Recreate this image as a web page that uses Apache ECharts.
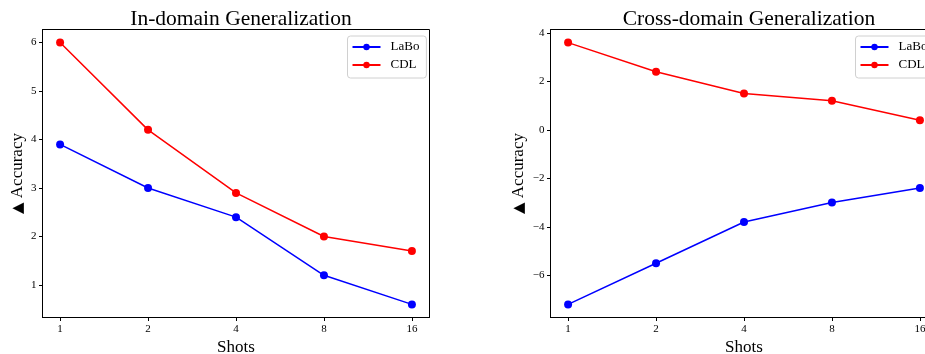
<!DOCTYPE html>
<html><head><meta charset="utf-8">
<script src="https://cdn.jsdelivr.net/npm/echarts@6/dist/echarts.min.js"></script>
<style>html,body{margin:0;padding:0;background:#fff}#c{width:925px;height:354px}</style>
</head><body><div id="c"></div>
<script>
const shots = ['1','2','4','8','16'];
const inLaBo = [3.9, 3.0, 2.4, 1.2, 0.6];
const inCDL = [6.0, 4.2, 2.9, 2.0, 1.7];
const crossLaBo = [-7.2, -5.5, -3.8, -3.0, -2.4];
const crossCDL = [3.6, 2.4, 1.5, 1.2, 0.4];
const inTicks = [1, 2, 3, 4, 5, 6];
const crossTicks = [-6, -4, -2, 0, 2, 4];
const titles = ['In-domain Generalization', 'Cross-domain Generalization'];

const F = 'Liberation Serif, Times New Roman, serif';
const idx = shots.map((s, i) => i);
function pts(arr) { return arr.map((v, i) => [i, v]); }
function yRange(a, b) {
  const all = a.concat(b);
  const lo = Math.min(...all), hi = Math.max(...all), m = (hi - lo) * 0.05;
  return [lo - m, hi + m];
}
const r1 = yRange(inLaBo, inCDL), r2 = yRange(crossLaBo, crossCDL);
const grids = [
  {left: 42.5, top: 29.5, width: 387, height: 288, show: true, borderColor: '#000', borderWidth: 1, outerBoundsMode: 'none', containLabel: false},
  {left: 550.5, top: 29.5, width: 387, height: 288, show: true, borderColor: '#000', borderWidth: 1, outerBoundsMode: 'none', containLabel: false}
];
function xAx(g) {
  return {
    type: 'value', gridIndex: g, min: -0.2, max: 4.2,
    name: 'Shots', nameLocation: 'middle', nameGap: 20,
    nameTextStyle: {fontFamily: F, fontSize: 17, color: '#000'},
    axisLine: {show: true, onZero: false, lineStyle: {color: '#000', width: 1}},
    axisTick: {show: true, inside: false, length: 3.5, customValues: idx, lineStyle: {color: '#000'}},
    axisLabel: {customValues: idx, margin: 6, fontFamily: F, fontSize: 11, color: '#000',
      formatter: v => shots[Math.round(v)]},
    splitLine: {show: false}
  };
}
function yAx(g, r, ticks, gap) {
  return {
    type: 'value', gridIndex: g, min: r[0], max: r[1],
    name: '{t|\u25B2}{a| Accuracy}', nameLocation: 'middle', nameGap: gap,
    nameTextStyle: {fontFamily: F, fontSize: 17, color: '#000',
      rich: {t: {fontFamily: 'DejaVu Sans', fontSize: 15, color: '#000'}, a: {fontFamily: F, fontSize: 17, color: '#000'}}},
    axisLine: {show: true, onZero: false, lineStyle: {color: '#000', width: 1}},
    axisTick: {show: true, inside: false, length: 3.5, customValues: ticks, lineStyle: {color: '#000'}},
    axisLabel: {customValues: ticks, margin: 6, fontFamily: F, fontSize: 11, color: '#000',
      formatter: v => String(Math.round(v)).replace('-', '\u2212')},
    splitLine: {show: false}
  };
}
function ser(name, data, color, g) {
  return {
    name: name, type: 'line', xAxisIndex: g, yAxisIndex: g, data: pts(data),
    symbol: 'circle', symbolSize: 8, color: color,
    lineStyle: {color: color, width: 1.5}, itemStyle: {color: color},
    animation: false
  };
}
function leg(left) {
  return {
    data: ['LaBo', 'CDL'], orient: 'vertical', left: left, top: 36,
    itemWidth: 28, itemHeight: 8, itemGap: 4,
    padding: [4, 7, 6, 4],
    borderColor: '#d0d0d0', borderWidth: 1, borderRadius: 3,
    textStyle: {fontFamily: F, fontSize: 13, lineHeight: 14, color: '#000', padding: [0, 0, 0, 5]},
    selectedMode: false
  };
}
const chart = echarts.init(document.getElementById('c'));
chart.setOption({
  backgroundColor: '#fff',
  animation: false,
  title: [
    {text: titles[0], left: 236, top: 3, textAlign: 'center', textStyle: {fontFamily: F, fontSize: 21.5, fontWeight: 'normal', color: '#000'}},
    {text: titles[1], left: 744, top: 3, textAlign: 'center', textStyle: {fontFamily: F, fontSize: 21.5, fontWeight: 'normal', color: '#000'}}
  ],
  legend: [leg(347.5), leg(855.5)],
  grid: grids,
  xAxis: [xAx(0), xAx(1)],
  yAxis: [yAx(0, r1, inTicks, 16), yAx(1, r2, crossTicks, 23)],
  series: [
    ser('LaBo', inLaBo, '#0000ff', 0),
    ser('CDL', inCDL, '#ff0000', 0),
    ser('LaBo', crossLaBo, '#0000ff', 1),
    ser('CDL', crossCDL, '#ff0000', 1)
  ]
});
</script></body></html>
